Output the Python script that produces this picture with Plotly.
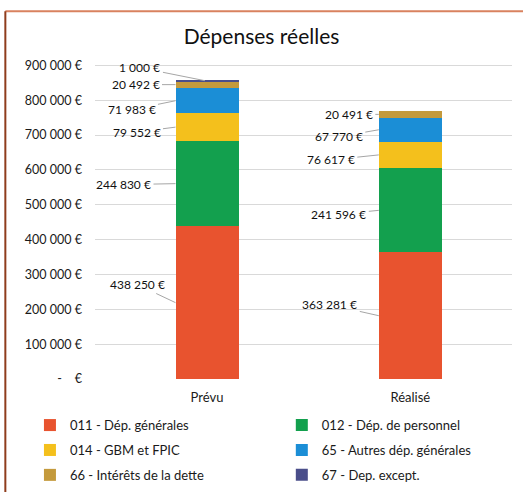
import plotly.graph_objects as go
import numpy as np

categories = ["Prévu", "Réalisé"]
series_names = ["011 - Dép. générales", "012 - Dép. de personnel", "014 - GBM et FPIC",
                "65 - Autres dép. générales", "66 - Intérêts de la dette", "67 - Dep. except."]
prevu = [438250, 244830, 79552, 71983, 20492, 1000]
realise = [363281, 241596, 76617, 67770, 20491, 0]
colors = ["#E8532F", "#13A04E", "#F4C01C", "#1B8ED6", "#C49A3C", "#4A4E8A"]
ytick_vals = [0, 100000, 200000, 300000, 400000, 500000, 600000, 700000, 800000, 900000]
ytick_text = ["-\u00a0\u00a0\u00a0\u00a0€", "100 000 €", "200 000 €", "300 000 €", "400 000 €",
              "500 000 €", "600 000 €", "700 000 €", "800 000 €", "900 000 €"]

def fmt(v):
    return f"{v:,}".replace(",", " ") + " €"

FONT = "Lato, 'Open Sans', sans-serif"
fig = go.Figure()
for i, name in enumerate(series_names):
    fig.add_trace(go.Bar(x=categories, y=[prevu[i], realise[i]], name=name,
                         legend="legend" if i % 2 == 0 else "legend2",
                         legendgroup=f"g{i}",
                         marker=dict(color=colors[i], line=dict(width=0))))

half = 0.155
offsets = {
    0: {0: (-38, -18), 1: (-52, 1), 2: (-39, 5), 3: (-44, 9), 4: (-40, 0)},
    1: {0: (-49, -11), 1: (-40, 4), 2: (-48, 5), 3: (-40, 7), 4: (-30, 0)},
}
annotations = []
for ci, vals in enumerate([prevu, realise]):
    cum = np.cumsum([0] + vals)
    for si in range(5):
        v = vals[si]
        mid = (cum[si] + cum[si + 1]) / 2
        ax, ay = offsets[ci][si]
        annotations.append(dict(x=ci - half, y=mid, xref="x", yref="y", text=fmt(v),
                                showarrow=True, arrowhead=0, arrowwidth=1, arrowcolor="#A6A6A6",
                                ax=ax, ay=ay, standoff=0, startstandoff=2, borderpad=0,
                                font=dict(size=12, color="#111", family=FONT)))
if prevu[5] > 0:
    annotations.append(dict(x=-0.01, y=sum(prevu), xref="x", yref="y", text=fmt(prevu[5]),
                            showarrow=True, arrowhead=0, arrowwidth=1, arrowcolor="#A6A6A6",
                            ax=-65, ay=-13, standoff=0, startstandoff=2, borderpad=0,
                            font=dict(size=12, color="#111", family=FONT)))

leg_common = dict(orientation="v", yanchor="top", y=-0.094, xanchor="left",
                  traceorder="grouped", tracegroupgap=5, bgcolor="rgba(0,0,0,0)",
                  font=dict(size=13, color="#1a1a1a", family=FONT), itemwidth=30)

fig.update_layout(
    width=523, height=492,
    barmode="stack", bargap=0.69,
    paper_bgcolor="white", plot_bgcolor="white",
    margin=dict(l=95, r=11, t=48, b=113, autoexpand=False),
    font=dict(family=FONT, color="#1a1a1a"),
    title=dict(text="Dépenses réelles", x=0.5, xanchor="center", y=1 - 37 / 492, yanchor="middle",
               font=dict(size=21, color="#111", family=FONT)),
    yaxis=dict(range=[0, 950000], tickvals=ytick_vals, ticktext=ytick_text,
               showgrid=True, gridcolor="#D9D9D9", gridwidth=1, zeroline=False,
               tickfont=dict(size=12.5, color="#1a1a1a"), ticklabelstandoff=12, showline=False),
    xaxis=dict(tickfont=dict(size=13, color="#1a1a1a"), showline=False, ticks="",
               ticklabelstandoff=9),
    legend=dict(x=-0.156, **leg_common),
    legend2=dict(x=0.448, **leg_common),
    annotations=annotations,
    showlegend=True,
    shapes=[
        dict(type="line", xref="paper", yref="paper", x0=-0.215, x1=1.05, y0=1.111, y1=1.111,
             line=dict(color="#D9825F", width=2)),
        dict(type="line", xref="paper", yref="paper", x0=-0.215, x1=-0.215, y0=1.111, y1=-0.36,
             line=dict(color="#8F3C1C", width=2)),
    ],
)
fig.write_html("out.html", config={"displayModeBar": False},
               post_script="document.body.style.margin='0';document.body.style.overflow='hidden';")
